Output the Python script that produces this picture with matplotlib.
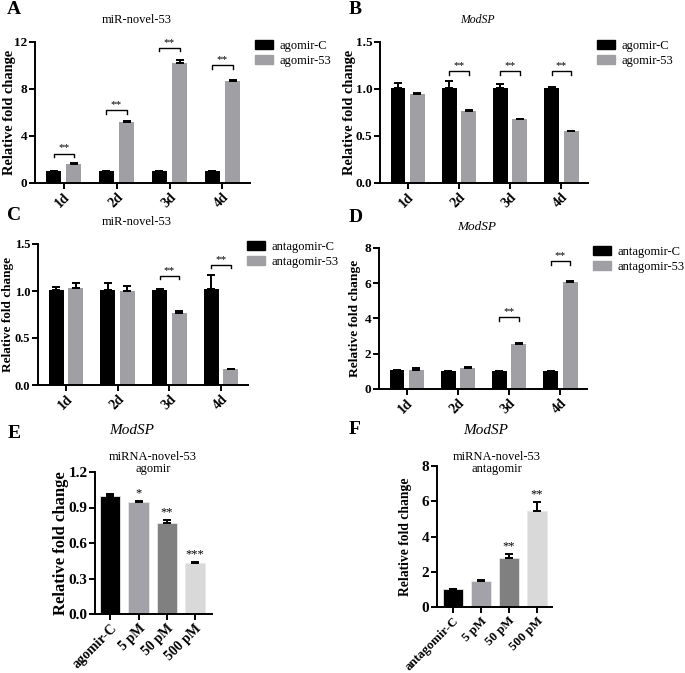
import matplotlib.pyplot as plt
from matplotlib.patches import Patch

plt.rcParams["font.family"] = ["Liberation Serif", "DejaVu Serif"]

W, H = 685, 673  # figure size in pixels

# ---- data ----
days = ["1d", "2d", "3d", "4d"]

a_ctrl = [1.0, 1.0, 1.0, 1.0]
a_ctrl_err = [0.02, 0.02, 0.02, 0.02]
a_treat = [1.6, 5.2, 10.25, 8.65]
a_treat_err = [0.08, 0.08, 0.2, 0.15]
a_brackets = [2.5, 6.2, 11.5, 10.0]

b_ctrl = [1.01, 1.01, 1.01, 1.01]
b_ctrl_err = [0.05, 0.07, 0.04, 0.01]
b_treat = [0.95, 0.77, 0.68, 0.55]
b_treat_err = [0.005, 0.005, 0.005, 0.005]
b_brackets = [None, 1.19, 1.19, 1.19]

c_ctrl = [1.01, 1.01, 1.01, 1.02]
c_ctrl_err = [0.03, 0.07, 0.015, 0.15]
c_treat = [1.03, 1.0, 0.77, 0.17]
c_treat_err = [0.05, 0.05, 0.02, 0.005]
c_brackets = [None, None, 1.16, 1.28]

d_ctrl = [1.05, 1.02, 1.02, 1.02]
d_ctrl_err = [0.02, 0.02, 0.02, 0.02]
d_treat = [1.1, 1.18, 2.58, 6.05]
d_treat_err = [0.08, 0.05, 0.05, 0.1]
d_brackets = [None, None, 4.06, 7.26]

e_labels = ["agomir-C", "5 pM", "50 pM", "500 pM"]
e_vals = [1.0, 0.95, 0.765, 0.435]
e_err = [0.01, 0.005, 0.03, 0.005]
e_stars = ["", "*", "**", "***"]

f_labels = ["antagomir-C", "5 pM", "50 pM", "500 pM"]
f_vals = [1.02, 1.48, 2.8, 5.45]
f_err = [0.02, 0.08, 0.2, 0.5]
f_stars = ["", "", "**", "**"]

dose_colors = ["#000000", "#a2a2a8", "#808080", "#d9d9d9"]
ctrl_color = "#000000"
treat_color = "#a0a0a4"


def make_ax(fig, left, right, top, bottom):
    ax = fig.add_axes([left / W, 1 - bottom / H, (right - left) / W, (bottom - top) / H])
    ax.px = (left, right, top, bottom)
    return ax


def style(ax, ylim, yticks, ytick_labels, xlabels, xlim, yfs, xfs, label_fs, label_x):
    for s in ["top", "right"]:
        ax.spines[s].set_visible(False)
    for s in ["left", "bottom"]:
        ax.spines[s].set_linewidth(1.4)
    ax.set_ylim(*ylim)
    ax.set_xlim(*xlim)
    ax.set_yticks(yticks)
    ax.set_yticklabels(ytick_labels, fontsize=yfs, fontweight="bold")
    ax.set_xticks(range(len(xlabels)))
    ax.set_xticklabels(xlabels, rotation=45, ha="right", rotation_mode="anchor",
                       fontsize=xfs, fontweight="bold")
    ax.tick_params(width=1.4, length=4, pad=1.5)
    ax.set_ylabel("Relative fold change", fontsize=label_fs, fontweight="bold")
    left, right = ax.px[0], ax.px[1]
    ax.yaxis.set_label_coords((label_x - left) / (right - left), 0.5)
    ax.yaxis.label.set_verticalalignment("center")


def grouped(ax, ctrl, ctrl_err, treat, treat_err, brackets, ymax):
    x = range(len(ctrl))
    off, w = 0.19, 0.29
    ek = dict(ecolor="black", capsize=3, elinewidth=1.4, capthick=1.4)
    ax.bar([i - off for i in x], ctrl, w, color=ctrl_color, yerr=[[0] * 4, ctrl_err], error_kw=ek)
    ax.bar([i + off for i in x], treat, w, color=treat_color, yerr=[[0] * 4, treat_err], error_kw=ek)
    tick = ymax * 0.025
    for i, h in enumerate(brackets):
        if h is None:
            continue
        ax.plot([i - off, i - off, i + off, i + off], [h - tick, h, h, h - tick],
                color="black", lw=1.0, clip_on=False)
        ax.text(i, h + tick * 0.3, "**", ha="center", va="bottom", fontsize=8)


def legend(ax, labels, sq_left, sq_top):
    left, right, top, bottom = ax.px
    handles = [Patch(color=ctrl_color), Patch(color=treat_color)]
    ax.legend(handles, labels, loc="upper left",
              bbox_to_anchor=((sq_left - left) / (right - left), (bottom - sq_top) / (bottom - top)),
              frameon=False, fontsize=9, handlelength=1.45, handleheight=0.7,
              handletextpad=0.5, labelspacing=0.25, borderpad=0, borderaxespad=0)


fig = plt.figure(figsize=(W / 100, H / 100), dpi=100)

# ---- A ----
axA = make_ax(fig, 35, 250, 42, 183)
grouped(axA, a_ctrl, a_ctrl_err, a_treat, a_treat_err, a_brackets, 12)
style(axA, (0, 12), [0, 4, 8, 12], ["0", "4", "8", "12"], days, (-0.54, 3.52),
      9.5, 10, 10.4, 10)
legend(axA, ["agomir-C", "agomir-53"], 255, 40)

# ---- B ----
axB = make_ax(fig, 380, 588, 42, 183)
grouped(axB, b_ctrl, b_ctrl_err, b_treat, b_treat_err, b_brackets, 1.5)
style(axB, (0, 1.5), [0, 0.5, 1.0, 1.5], ["0.0", "0.5", "1.0", "1.5"], days, (-0.54, 3.52),
      9.5, 10, 10.4, 349)
legend(axB, ["agomir-C", "agomir-53"], 597, 40)

# ---- C ----
axC = make_ax(fig, 38, 248, 244, 385)
grouped(axC, c_ctrl, c_ctrl_err, c_treat, c_treat_err, c_brackets, 1.5)
style(axC, (0, 1.5), [0, 0.5, 1.0, 1.5], ["0.0", "0.5", "1.0", "1.5"], days, (-0.54, 3.52),
      9, 10, 9.5, 8)
legend(axC, ["antagomir-C", "antagomir-53"], 247, 241)

# ---- D ----
axD = make_ax(fig, 379, 587, 248, 389)
grouped(axD, d_ctrl, d_ctrl_err, d_treat, d_treat_err, d_brackets, 8)
style(axD, (0, 8), [0, 2, 4, 6, 8], ["0", "2", "4", "6", "8"], days, (-0.54, 3.52),
      9.5, 10, 9.7, 355)
legend(axD, ["antagomir-C", "antagomir-53"], 593, 246)

# ---- E ----
axE = make_ax(fig, 95, 212, 472, 614)
ek = dict(ecolor="black", capsize=3, elinewidth=1.4, capthick=1.4)
axE.bar(range(4), e_vals, 0.72, color=dose_colors, edgecolor="#e8e8e8", linewidth=0.6,
        yerr=[[0] * 4, e_err], error_kw=ek)
for i, s in enumerate(e_stars):
    if s:
        axE.text(i, e_vals[i] + e_err[i] + 0.01, s, ha="center", va="bottom", fontsize=9)
style(axE, (0, 1.2), [0, 0.3, 0.6, 0.9, 1.2], ["0.0", "0.3", "0.6", "0.9", "1.2"],
      e_labels, (-0.54, 3.6), 11, 10, 12, 61)

# ---- F ----
axF = make_ax(fig, 437, 552, 466, 607)
axF.bar(range(4), f_vals, 0.72, color=dose_colors, edgecolor="#e8e8e8", linewidth=0.6,
        yerr=[[0] * 4, f_err], error_kw=ek)
for i, s in enumerate(f_stars):
    if s:
        axF.text(i, f_vals[i] + f_err[i] + 0.08, s, ha="center", va="bottom", fontsize=9)
style(axF, (0, 8), [0, 2, 4, 6, 8], ["0", "2", "4", "6", "8"], f_labels, (-0.57, 3.54),
      11, 9.3, 9.8, 405)


def ftext(x, y, s, **kw):
    fig.text(x / W, 1 - y / H, s, **kw)


# panel letters
for x, y, s in [(14, 10, "A"), (355, 10, "B"), (14, 215, "C"), (356, 217, "D"),
                (14, 433, "E"), (355, 430, "F")]:
    ftext(x, y, s, fontsize=14, fontweight="bold", va="center", ha="center")

# panel titles
ftext(137, 20, "miR-novel-53", fontsize=9, ha="center", va="center")
ftext(477, 20, "ModSP", fontsize=8.5, style="italic", ha="center", va="center")
ftext(137, 222, "miR-novel-53", fontsize=9, ha="center", va="center")
ftext(477, 227, "ModSP", fontsize=9.5, style="italic", ha="center", va="center")
ftext(132, 430, "ModSP", fontsize=11, style="italic", ha="center", va="center")
ftext(486, 430, "ModSP", fontsize=11, style="italic", ha="center", va="center")
ftext(153, 463, "miRNA-novel-53\nagomir", fontsize=9, ha="center", va="center", linespacing=1.1)
ftext(497, 463, "miRNA-novel-53\nantagomir", fontsize=9, ha="center", va="center", linespacing=1.1)

fig.savefig("out.png", dpi=100)
